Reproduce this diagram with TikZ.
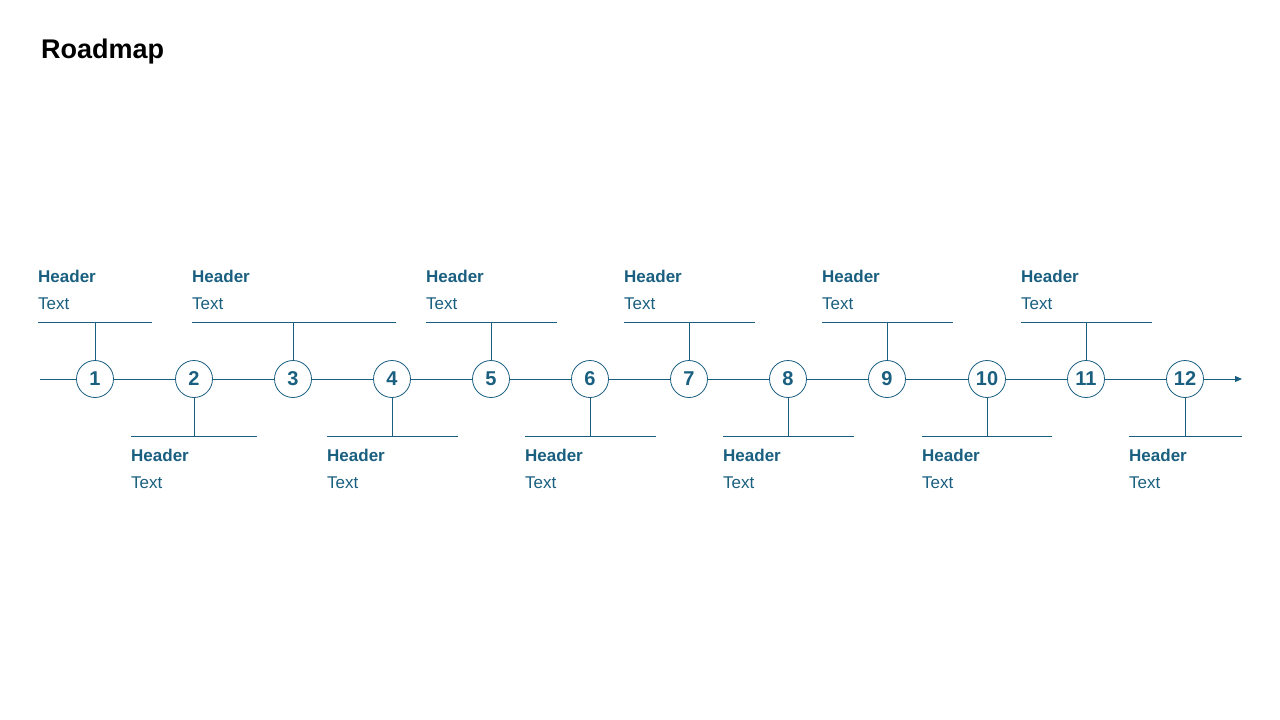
\documentclass[tikz,border=0pt]{standalone}
\usepackage{fontspec}
\setmainfont{Liberation Sans}
\usetikzlibrary{arrows.meta}
\definecolor{rm}{HTML}{1A5F80}
\begin{document}
\begin{tikzpicture}[x=1pt,y=-1pt,
  ln/.style={draw=rm,line width=1pt},
  num/.style={circle,draw=rm,line width=0.8pt,fill=white,minimum size=37pt,inner sep=0pt,text=rm,font=\fontsize{20}{20}\selectfont\bfseries},
  hd/.style={anchor=base west,inner sep=0pt,text=rm,font=\fontsize{17}{17}\selectfont\bfseries},
  tx/.style={anchor=base west,inner sep=0pt,text=rm,font=\fontsize{17}{17}\selectfont}]
\useasboundingbox (0,0) rectangle (1280,720);
\node[anchor=base west,inner sep=0pt,font=\fontsize{27}{27}\selectfont\bfseries] (title) at (41,58) {Roadmap};
\coordinate (s) at (40,379);
\coordinate (e) at (1242,379);
\draw[ln,-{Triangle[length=7pt,width=6pt]}] (s) -- (e);
% top items: index, x, left, right
\foreach \i/\x/\l/\r in {1/95/38/152,3/293/192/396,5/491/426/557,7/689/624/755,9/887/822/953,11/1086/1021/1152}{
  \coordinate (tl\i) at (\l,322); \coordinate (tr\i) at (\r,322); \coordinate (tm\i) at (\x,322);
  \draw[ln] (tl\i) -- (tr\i);
  \draw[ln] (tm\i) -- (\x,379);
  \node[hd] (h\i) at (\l,282) {Header};
  \node[tx] (t\i) at (\l,309) {Text};
}
\foreach \i/\x/\l/\r in {2/194/131/257,4/392/327/458,6/590/525/656,8/788/723/854,10/987/922/1052,12/1185/1129/1242}{
  \coordinate (bl\i) at (\l,436); \coordinate (br\i) at (\r,436); \coordinate (bm\i) at (\x,436);
  \draw[ln] (bl\i) -- (br\i);
  \draw[ln] (bm\i) -- (\x,379);
  \node[hd] (h\i) at (\l,461) {Header};
  \node[tx] (t\i) at (\l,488) {Text};
}
\foreach \i/\x in {1/95,2/194,3/293,4/392,5/491,6/590,7/689,8/788,9/887,10/987,11/1086,12/1185}{
  \node[num] (n\i) at (\x,379) {\i};
}
\end{tikzpicture}
\end{document}
